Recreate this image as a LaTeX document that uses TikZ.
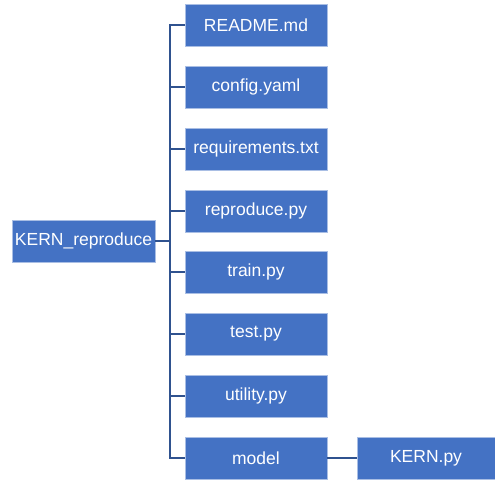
\documentclass[tikz,border=0pt]{standalone}
\usepackage{fontspec}
\setmainfont{Liberation Sans}
\usepackage{tikz}
\usetikzlibrary{calc}
\definecolor{boxblue}{HTML}{4472C4}
\definecolor{linkblue}{HTML}{2F528F}
\definecolor{boxedge}{HTML}{A9BEE4}

\begin{document}
\begin{tikzpicture}[x=1pt,y=-1pt,
  filebox/.style={draw=boxedge,line width=0.6pt,fill=boxblue,text=white,
    minimum width=142pt,minimum height=42pt,inner sep=0pt,
    font=\fontsize{17.5}{20}\selectfont},
  link/.style={draw=linkblue,line width=1.3pt}]
\useasboundingbox (0,0) rectangle (495,481);
\node[filebox,minimum width=143pt] (root) at (83.5,241) {KERN\_reproduce};
\foreach \n/\t/\y in {readme/README.md/25,config/config.yaml/87,
    req/requirements.txt/149,repro/reproduce.py/211,train/train.py/272,
    test/test.py/334,util/utility.py/396,model/model/458}
  \node[filebox] (\n) at (256,\y) {\t};
\node[filebox,minimum width=138pt] (kern) at (426,458) {KERN.py};
\coordinate (trunk) at (170,241);
\draw[link] (root.east) -- (trunk);
\draw[link] (readme.west) -| (trunk |- model.west) -- (model.west);
\foreach \n in {config,req,repro,train,test,util}
  \draw[link] (\n.west) -- (trunk |- \n.west);
\draw[link] (model.east) -- (kern.west);
\end{tikzpicture}
\end{document}
